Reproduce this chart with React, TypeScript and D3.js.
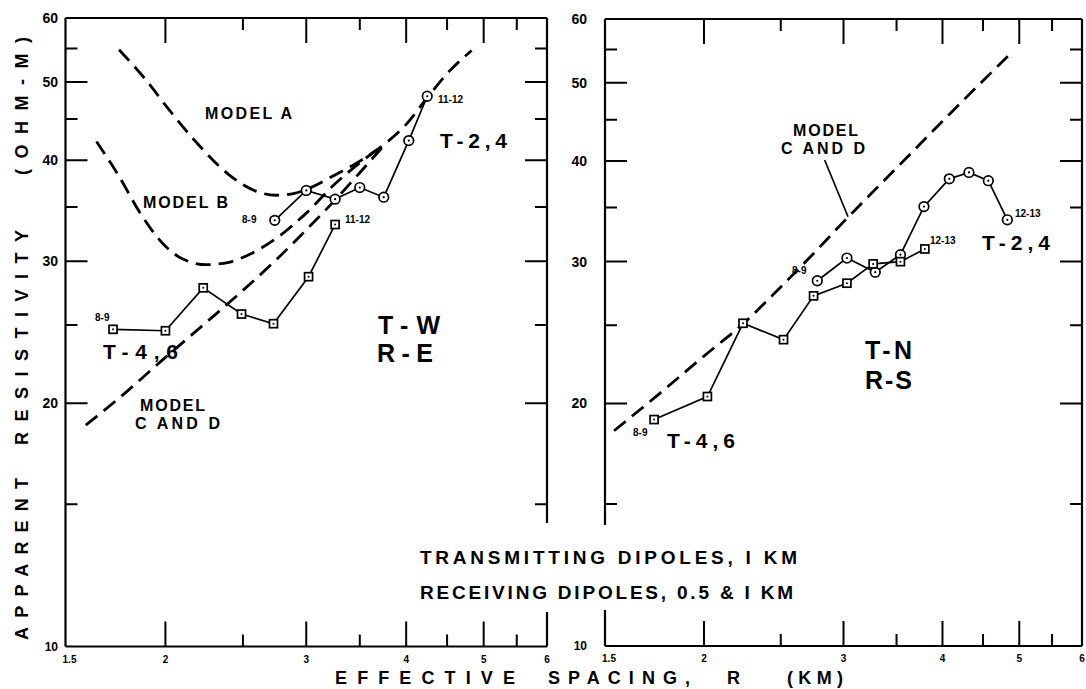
import React from 'react';
import * as d3 from 'd3';

// axis values
const xTicksMajor = [2, 3, 4, 5];
const xTicksMinor = [2.5, 3.5, 4.5, 5.5];
const xTickLabels = ['1.5', '2', '3', '4', '5', '6'];
const yTicksMajor = [20, 30, 40, 50];
const yTicksMinor = [15, 25, 35, 45, 55];
const yTickLabels = [10, 20, 30, 40, 50, 60];

// left panel (T-W / R-E)
const leftModelA: [number, number][] = [
  [1.75, 54.8], [1.9, 50.0], [2.0, 46.8], [2.2, 41.8], [2.4, 38.4], [2.6, 36.6], [2.75, 36.2],
  [2.9, 36.4], [3.0, 36.8], [3.25, 38.3], [3.5, 39.9], [3.75, 41.8], [4.0, 44.3], [4.25, 47.8],
  [4.5, 51.2], [4.83, 54.7]
];
const leftModelB: [number, number][] = [
  [1.64, 42.2], [1.75, 38.2], [1.86, 34.4], [2.0, 31.3], [2.1, 30.2], [2.25, 29.7], [2.4, 29.9],
  [2.55, 30.6], [2.75, 32.0], [3.0, 34.4], [3.25, 37.3], [3.5, 39.7], [3.75, 41.8]
];
const leftModelCD: [number, number][] = [
  [1.59, 18.8], [1.75, 20.3], [2.0, 22.8], [2.25, 25.2], [2.5, 27.6], [2.75, 30.1], [3.0, 32.8],
  [3.25, 35.6], [3.5, 38.6], [3.75, 41.7]
];
const leftT24: [number, number][] = [
  [2.74, 33.7], [3.0, 36.7], [3.26, 35.8], [3.5, 37.0], [3.75, 36.0], [4.03, 42.3], [4.25, 48.0]
];
const leftT46: [number, number][] = [
  [1.72, 24.7], [2.0, 24.6], [2.23, 27.8], [2.49, 25.8], [2.73, 25.1], [3.02, 28.7], [3.26, 33.3]
];

// right panel (T-N / R-S)
const rightModelCD: [number, number][] = [
  [1.54, 18.5], [1.75, 20.5], [2.0, 22.9], [2.25, 25.2], [2.5, 27.9], [2.75, 30.7], [3.0, 33.6],
  [3.5, 39.2], [4.0, 44.8], [4.5, 50.3], [4.87, 54.3]
];
const rightT24: [number, number][] = [
  [2.78, 28.4], [3.03, 30.3], [3.29, 29.1], [3.54, 30.6], [3.79, 35.1], [4.08, 38.0], [4.32, 38.7],
  [4.57, 37.8], [4.83, 33.8]
];
const rightT46: [number, number][] = [
  [1.73, 19.1], [2.02, 20.4], [2.24, 25.15], [2.52, 24.0], [2.75, 27.2], [3.03, 28.2], [3.27, 29.8],
  [3.54, 29.99], [3.8, 31.1]
];
const rightLeader: [number, number][] = [[2.84, 40.1], [3.04, 34.1]];

const FONT = "'Liberation Sans', Arial, sans-serif";

type Pt = [number, number];

const Panel = ({ x0, x1, yTop, yBot, gap, gapSide, labelEnd, children }: any) => {
  const x = d3.scaleLog().domain([1.5, 6]).range([x0, x1]);
  const y = d3.scaleLog().domain([10, 60]).range([yBot, yTop]);
  const line = d3.line<Pt>().x(d => x(d[0])).y(d => y(d[1]));
  const curve = d3.line<Pt>().x(d => x(d[0])).y(d => y(d[1])).curve(d3.curveMonotoneX);

  const leftBorder = gapSide === 'left'
    ? `M${x0},${yTop}V${gap[0]}M${x0},${gap[1]}V${yBot}`
    : `M${x0},${yTop}V${yBot}`;
  const rightBorder = gapSide === 'right'
    ? `M${x1},${yTop}V${gap[0]}M${x1},${gap[1]}V${yBot}`
    : `M${x1},${yTop}V${yBot}`;

  return (
    <g>
      <path d={`M${x0},${yTop}H${x1}M${x0},${yBot}H${x1}`} stroke="#000" strokeWidth={2.2} fill="none" />
      <path d={leftBorder + rightBorder} stroke="#000" strokeWidth={2.2} fill="none" />
      {xTicksMajor.concat(xTicksMinor).map(v => {
        const len = xTicksMajor.includes(v) ? 25 : 12;
        return (
          <path key={'xt' + v} d={`M${x(v)},${yBot}v${-len}M${x(v)},${yTop}v${len}`} stroke="#000" strokeWidth={2} />
        );
      })}
      {yTicksMajor.concat(yTicksMinor).map(v => {
        const len = yTicksMajor.includes(v) ? 22 : 12;
        return (
          <path key={'yt' + v} d={`M${x0},${y(v)}h${len}M${x1},${y(v)}h${-len}`} stroke="#000" strokeWidth={2} />
        );
      })}
      {yTickLabels.map(v => (
        <text key={'yl' + v} x={labelEnd} y={y(v) + (v === 10 ? 4 : 5)} textAnchor="end"
          fontSize={v === 10 ? 12 : 14} fontWeight="bold" fontFamily={FONT}>{v}</text>
      ))}
      {xTickLabels.map(v => (
        <text key={'xl' + v} x={x(+v) + (v === '1.5' ? 4 : 0)} y={yBot + 16} textAnchor="middle"
          fontSize={10} fontWeight="bold" fontFamily={FONT}>{v}</text>
      ))}
      {children({ x, y, line, curve })}
    </g>
  );
};

const Circles = ({ data, x, y }: any) => (
  <g>
    {data.map((d: Pt, i: number) => (
      <g key={i}>
        <circle cx={x(d[0])} cy={y(d[1])} r={4.8} fill="#fff" stroke="#000" strokeWidth={1.7} />
        <circle cx={x(d[0])} cy={y(d[1])} r={1.1} fill="#000" />
      </g>
    ))}
  </g>
);

const Squares = ({ data, x, y }: any) => (
  <g>
    {data.map((d: Pt, i: number) => (
      <g key={i}>
        <rect x={x(d[0]) - 4} y={y(d[1]) - 4} width={8} height={8} fill="#fff" stroke="#000" strokeWidth={1.7} />
        <circle cx={x(d[0])} cy={y(d[1])} r={1} fill="#000" />
      </g>
    ))}
  </g>
);

const T = ({ x, y, size, len, anchor, children }: any) => (
  <text x={x} y={y} fontSize={size} fontWeight="bold" fontFamily={FONT} textAnchor={anchor || 'start'}
    textLength={len} lengthAdjust={len ? 'spacing' : undefined}>{children}</text>
);

const dash = { stroke: '#000', strokeWidth: 2.8, fill: 'none', strokeDasharray: '15 8' };
const solid = { stroke: '#000', strokeWidth: 1.7, fill: 'none' };

export default function App() {
  return (
    <svg width={1086} height={689} style={{ position: 'absolute', left: 0, top: 0, background: '#fff' }}>
      <rect width={1086} height={689} fill="#fff" />
      <Panel x0={65.5} x1={547} yTop={18} yBot={646.5} gap={[523, 612]} gapSide="right" labelEnd={58}>
        {({ x, y, line, curve }: any) => (
          <g>
            <path d={curve(leftModelA)} {...dash} />
            <path d={curve(leftModelB)} {...dash} />
            <path d={curve(leftModelCD)} {...dash} />
            <path d={line(leftT24)} {...solid} />
            <path d={line(leftT46)} {...solid} />
            <Circles data={leftT24} x={x} y={y} />
            <Squares data={leftT46} x={x} y={y} />
          </g>
        )}
      </Panel>
      <Panel x0={605} x1={1082} yTop={19} yBot={646} gap={[525, 610]} gapSide="left" labelEnd={587}>
        {({ x, y, line, curve }: any) => (
          <g>
            <path d={curve(rightModelCD)} {...dash} />
            <path d={line(rightLeader)} stroke="#000" strokeWidth={1.7} />
            <path d={line(rightT24)} {...solid} />
            <path d={line(rightT46)} {...solid} />
            <Circles data={rightT24} x={x} y={y} />
            <Squares data={rightT46} x={x} y={y} />
          </g>
        )}
      </Panel>

      {/* left panel annotations */}
      <T x={205} y={119} size={16} len={87}>MODEL A</T>
      <T x={143} y={208} size={16} len={85}>MODEL B</T>
      <T x={140} y={411} size={16} len={65}>MODEL</T>
      <T x={135} y={429} size={16} len={85}>C AND D</T>
      <T x={440} y={148} size={21} len={67}>T-2,4</T>
      <T x={103} y={359} size={21} len={75}>T-4,6</T>
      <T x={378} y={334} size={25} len={62}>T-W</T>
      <T x={377} y={362} size={25} len={56}>R-E</T>
      <T x={242} y={223} size={10}>8-9</T>
      <T x={95} y={321} size={10}>8-9</T>
      <T x={438} y={103} size={10}>11-12</T>
      <T x={345} y={223} size={10}>11-12</T>

      {/* right panel annotations */}
      <T x={793} y={136} size={16} len={65}>MODEL</T>
      <T x={781} y={154} size={16} len={84}>C AND D</T>
      <T x={982} y={250} size={21} len={68}>T-2,4</T>
      <T x={667} y={448} size={21} len={68}>T-4,6</T>
      <T x={865} y={359} size={25} len={47}>T-N</T>
      <T x={865} y={389} size={25} len={47}>R-S</T>
      <T x={792} y={274} size={10}>8-9</T>
      <T x={633} y={436} size={10}>8-9</T>
      <T x={930} y={244} size={10}>12-13</T>
      <T x={1015} y={217} size={10}>12-13</T>

      {/* center notes */}
      <T x={420} y={564} size={19} len={377}>TRANSMITTING  DIPOLES, I KM</T>
      <T x={420} y={599} size={19} len={373}>RECEIVING DIPOLES, 0.5 &amp; I KM</T>

      {/* axis titles */}
      <T x={335} y={684} size={18} len={180}>EFFECTIVE</T>
      <T x={548} y={684} size={18} len={142}>SPACING,</T>
      <T x={727} y={684} size={18} len={18}>R</T>
      <T x={787} y={684} size={18} len={56}>(KM)</T>
      <g transform="translate(28,0) rotate(-90)">
        <T x={-640} y={0} size={18} len={162}>APPARENT</T>
        <T x={-445} y={0} size={18} len={215}>RESISTIVITY</T>
        <T x={-175} y={0} size={18} len={138}>(OHM-M)</T>
      </g>
    </svg>
  );
}
